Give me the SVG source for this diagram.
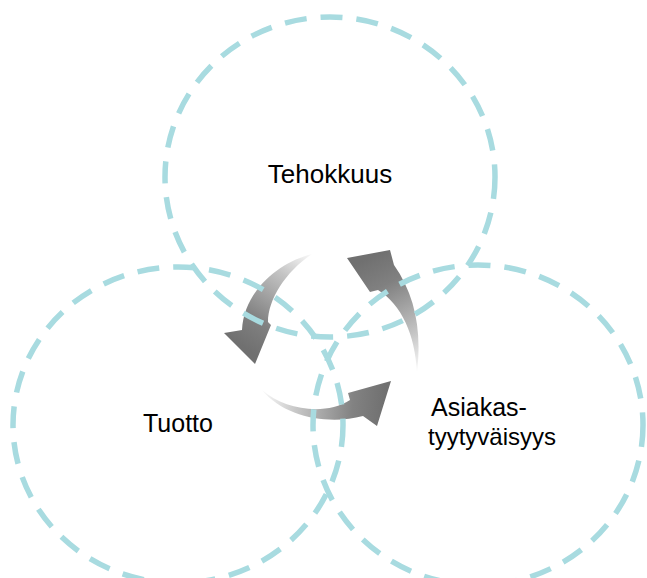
<svg xmlns="http://www.w3.org/2000/svg" width="647" height="578" viewBox="0 0 647 578">
  <style>
    .ring { fill: none; stroke: #a8dbe0; stroke-width: 5.5; stroke-dasharray: 22 14; }
    .label { font-family: "Liberation Sans", Arial, sans-serif; font-size: 25px; fill: #000; }
  </style>
  <defs>
    <linearGradient id="g1" gradientUnits="userSpaceOnUse" x1="314" y1="252" x2="248" y2="350">
      <stop offset="0" stop-color="#ffffff"/>
      <stop offset="0.3" stop-color="#c4c4c4"/>
      <stop offset="0.75" stop-color="#808080"/>
      <stop offset="1" stop-color="#707070"/>
    </linearGradient>
    <linearGradient id="g2" gradientUnits="userSpaceOnUse" x1="258" y1="392" x2="385" y2="400">
      <stop offset="0" stop-color="#ffffff"/>
      <stop offset="0.3" stop-color="#c8c8c8"/>
      <stop offset="0.75" stop-color="#828282"/>
      <stop offset="1" stop-color="#707070"/>
    </linearGradient>
    <linearGradient id="g3" gradientUnits="userSpaceOnUse" x1="418" y1="375" x2="360" y2="262">
      <stop offset="0" stop-color="#ffffff"/>
      <stop offset="0.3" stop-color="#c6c6c6"/>
      <stop offset="0.75" stop-color="#808080"/>
      <stop offset="1" stop-color="#707070"/>
    </linearGradient>
  </defs>

  <!-- cycle arrows between the three areas -->
  <g id="connectors">
    <path id="arrow-top-to-left" fill="url(#g1)" d="M312,254 C280,262 244,290 242,330 L224,333 L255,364 L271,325 L268,322 C268,300 285,272 312,254 Z"/>
    <path id="arrow-left-to-right" fill="url(#g2)" d="M262,390 C285,410 325,416 350,400 L348,393 L391,381 L377,426 L363,416 C330,425 285,418 262,390 Z"/>
    <path id="arrow-right-to-top" fill="url(#g3)" d="M417,372 C422,330 415,295 394,265 L390,250 L347,258 L370,292 L378,290 C402,305 415,335 417,372 Z"/>
  </g>

  <g id="tehokkuus">
    <ellipse class="ring" cx="330" cy="177" rx="165" ry="160"/>
    <text class="label" x="330" y="183" text-anchor="middle" style="font-size:26px">Tehokkuus</text>
  </g>

  <g id="tuotto">
    <ellipse class="ring" cx="178" cy="425" rx="165" ry="158"/>
    <text class="label" x="178" y="432" text-anchor="middle">Tuotto</text>
  </g>

  <g id="asiakastyytyvaisyys">
    <ellipse class="ring" cx="478" cy="425" rx="165" ry="160"/>
    <text class="label" x="431" y="416">Asiakas-</text>
    <text class="label" x="428" y="445" style="font-size:24px">tyytyväisyys</text>
  </g>
</svg>
